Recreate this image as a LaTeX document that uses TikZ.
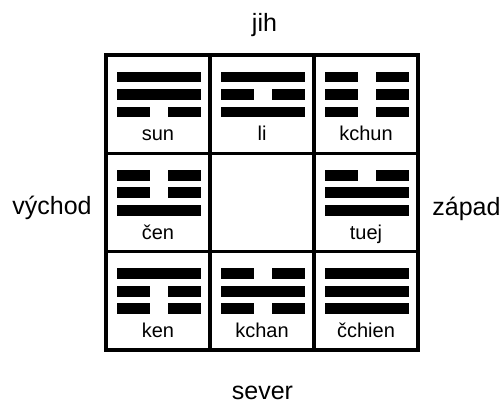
\documentclass[tikz,border=0pt]{standalone}
\usepackage{fontspec}
\setmainfont{Liberation Sans}
\begin{document}
\begin{tikzpicture}[x=1pt,y=-1pt,
  gridline/.style={line width=3.5pt, line cap=rect},
  bar/.style={fill=black},
  cellname/.style={anchor=base, inner sep=0pt, font=\fontsize{20}{24}\selectfont},
  dirname/.style={anchor=base, inner sep=0pt, font=\fontsize{25}{30}\selectfont}]
\useasboundingbox[fill=white] (0,0) rectangle (503,403);
% grid
\draw[gridline] (106,55) rectangle (418,350);
\draw[gridline] (210,55) -- (210,350);
\draw[gridline] (314,55) -- (314,350);
\draw[gridline] (106,153.3) -- (418,153.3);
\draw[gridline] (106,251.7) -- (418,251.7);
% trigrams
\foreach \cx/\cy/\a/\b/\c/\lab/\nm in {
  106/55/1/1/0/sun/sun,
  210/55/1/0/1/li/li,
  314/55/0/0/0/kchun/kchun,
  106/153.3/0/0/1/čen/cen,
  314/153.3/0/1/1/tuej/tuej,
  106/251.7/1/0/0/ken/ken,
  210/251.7/0/1/0/kchan/kchan,
  314/251.7/1/1/1/čchien/cchien}{
  \foreach \t [count=\i] in {\a,\b,\c}{
    \pgfmathsetmacro\yy{\cy+16.8+(\i-1)*17.4}
    \ifnum\t=1
      \fill[bar] (\cx+10.5,\yy) rectangle ++(84,10.7);
    \else
      \fill[bar] (\cx+10.5,\yy) rectangle ++(33,10.7);
      \fill[bar] (\cx+61.5,\yy) rectangle ++(33,10.7);
    \fi
  }
  \node[cellname] (\nm) at (\cx+52,\cy+86) {\lab};
}
% directions
\node[dirname] (jih) at (264.5,32) {jih};
\node[dirname] (vychod) at (52,215) {východ};
\node[dirname] (zapad) at (466.5,216) {západ};
\node[dirname] (sever) at (262.5,399) {sever};
\end{tikzpicture}
\end{document}
